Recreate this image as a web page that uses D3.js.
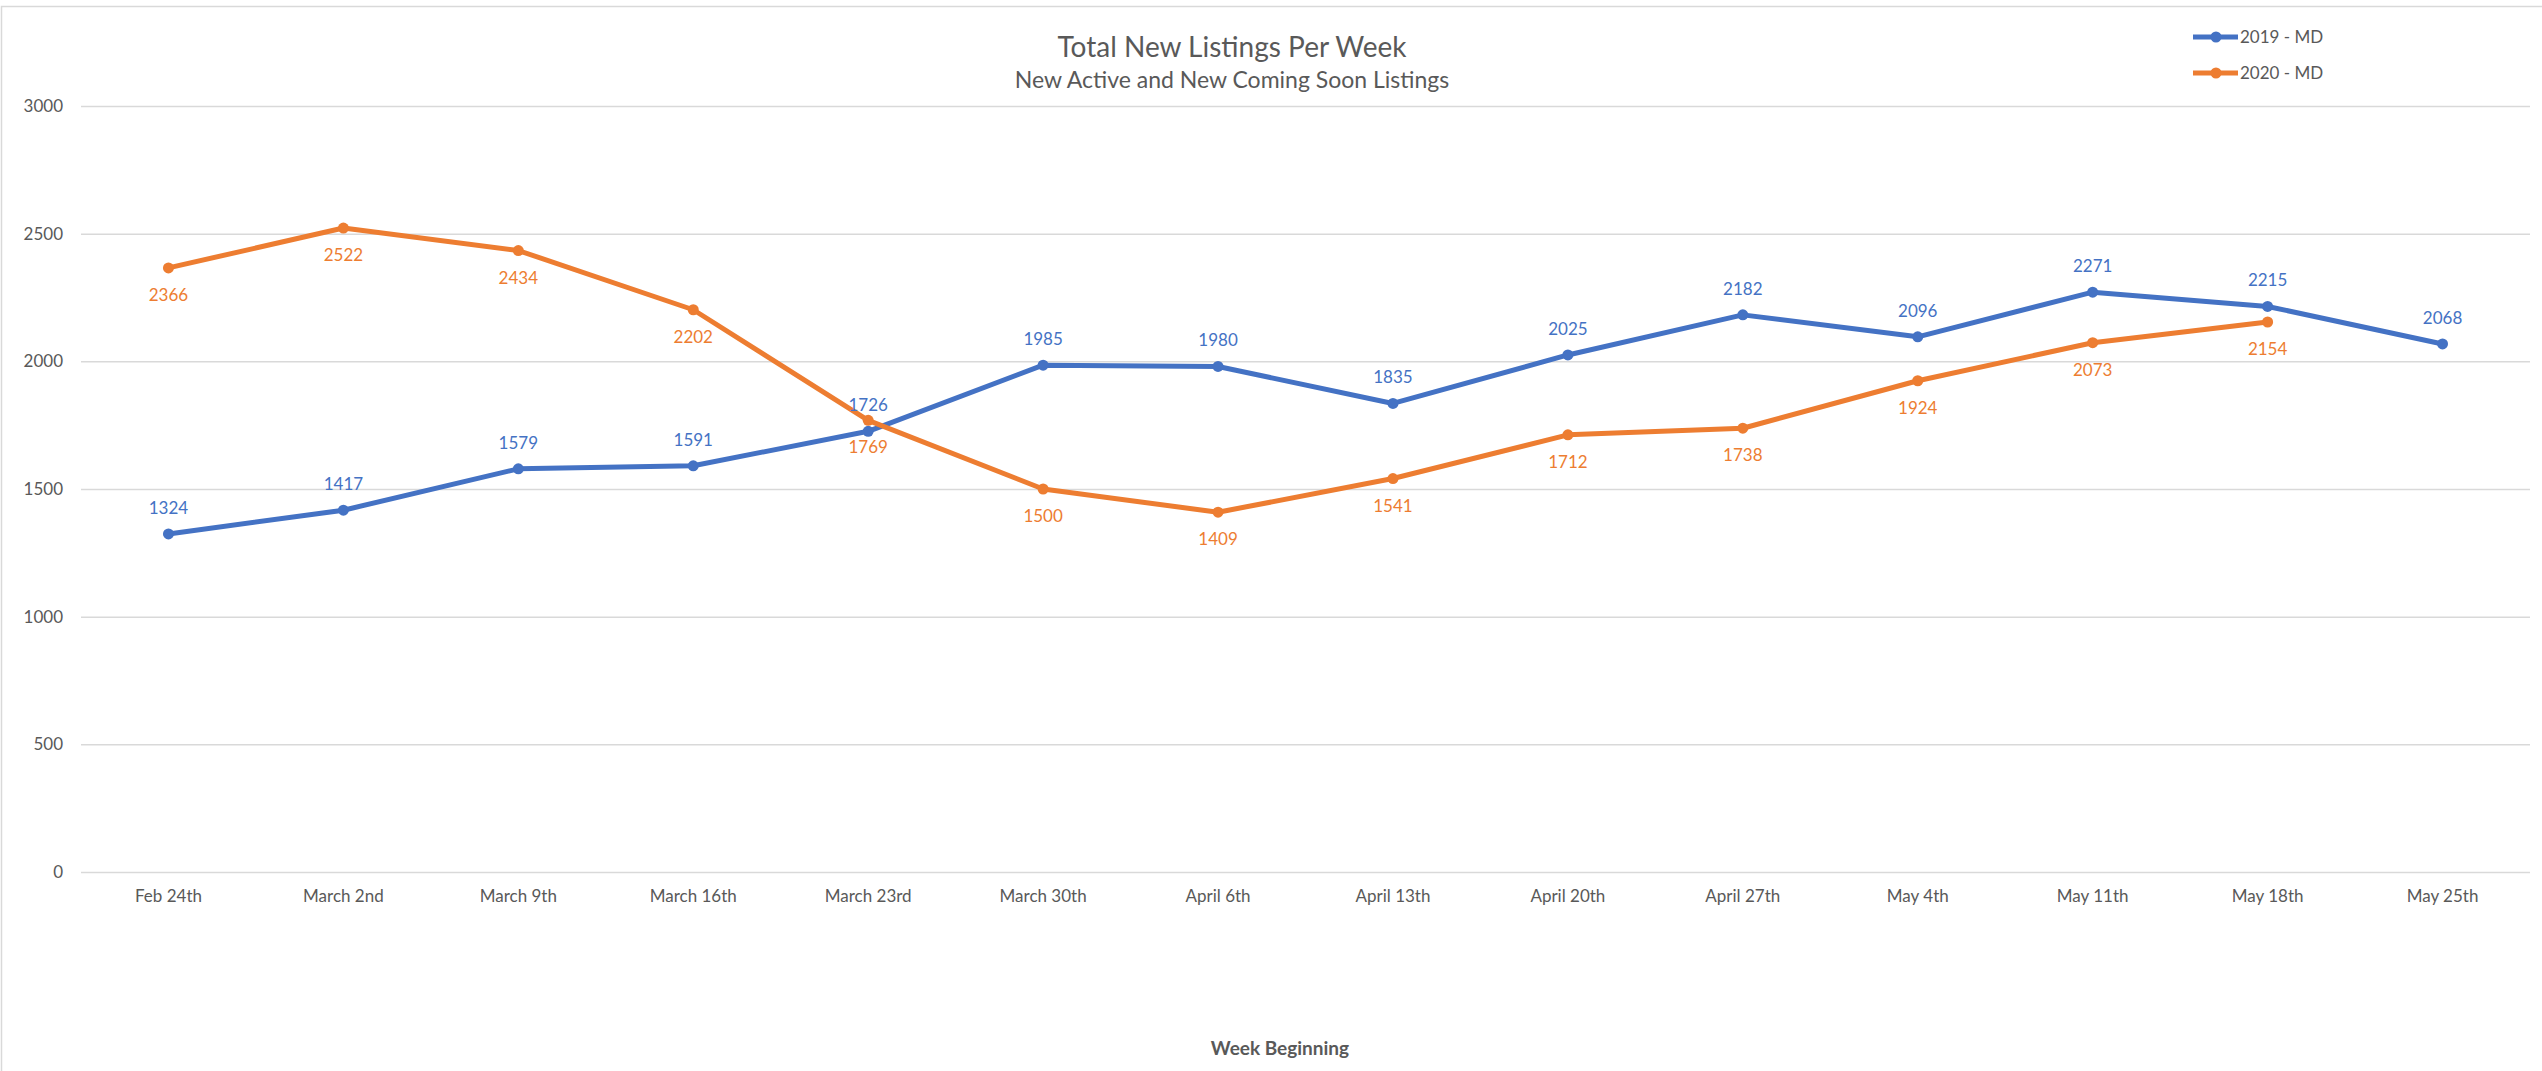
<!DOCTYPE html>
<html>
<head>
<meta charset="utf-8">
<script src="https://cdn.jsdelivr.net/npm/d3@7"></script>
<style>
  html, body { margin: 0; padding: 0; background: #fff; }
  svg { display: block; font-family: Lato, "Open Sans", sans-serif; }
</style>
</head>
<body>
<div id="chart"></div>
<script>
const width = 2542;
const height = 1071;

// chart data
const weeks = ["Feb 24th", "March 2nd", "March 9th", "March 16th", "March 23rd", "March 30th",
  "April 6th", "April 13th", "April 20th", "April 27th", "May 4th", "May 11th", "May 18th", "May 25th"];
const md2019 = [1324, 1417, 1579, 1591, 1726, 1985, 1980, 1835, 2025, 2182, 2096, 2271, 2215, 2068];
const md2020 = [2366, 2522, 2434, 2202, 1769, 1500, 1409, 1541, 1712, 1738, 1924, 2073, 2154];
const yTicks = [0, 500, 1000, 1500, 2000, 2500, 3000];

const series = [
  { name: "2019 - MD", values: md2019, color: "#4472C4", labelPos: "above" },
  { name: "2020 - MD", values: md2020, color: "#ED7D31", labelPos: "below" },
];

const textColor = "#595959";
const gridColor = "#D9D9D9";

const plot = { left: 81, right: 2530, top: 106, bottom: 872 };

const svg = d3.select("#chart").append("svg")
  .attr("width", width)
  .attr("height", height);

// chart border (only top and left edges show)
svg.append("path")
  .attr("d", `M1.5,${height} V6.5 H${width}`)
  .attr("fill", "none")
  .attr("stroke", gridColor)
  .attr("stroke-width", 1.5);

const xScale = d3.scaleBand()
  .domain(weeks)
  .range([plot.left, plot.right]);

const yScale = d3.scaleLinear()
  .domain([0, 3000])
  .range([plot.bottom, plot.top]);

// gridlines
svg.append("g")
  .attr("class", "gridlines")
  .attr("transform", `translate(${plot.left}, 0)`)
  .call(d3.axisLeft(yScale).tickValues(yTicks).tickFormat("").tickSize(-(plot.right - plot.left)))
  .call(g => g.select(".domain").remove())
  .call(g => g.selectAll("line").attr("stroke", gridColor).attr("stroke-width", 1.5));

// y axis labels
svg.append("g")
  .attr("class", "y-axis")
  .attr("transform", `translate(63, 0)`)
  .call(d3.axisLeft(yScale).tickValues(yTicks).tickFormat(d3.format("d")).tickSize(0).tickPadding(0))
  .call(g => g.select(".domain").remove())
  .call(g => g.selectAll("text")
    .attr("fill", textColor)
    .style("font-size", "17px")
    .style("font-family", "Lato, sans-serif"));

// x axis labels
svg.append("g")
  .attr("class", "x-axis")
  .attr("transform", `translate(0, ${plot.bottom})`)
  .call(d3.axisBottom(xScale).tickSize(0).tickPadding(18))
  .call(g => g.select(".domain").remove())
  .call(g => g.selectAll("text")
    .attr("fill", textColor)
    .style("font-size", "17px")
    .style("font-family", "Lato, sans-serif"));

const cx = (i) => xScale(weeks[i]) + xScale.bandwidth() / 2;

const line = d3.line()
  .x((d, i) => cx(i))
  .y(d => yScale(d));

const lines = svg.append("g").attr("class", "series");

series.forEach(s => {
  const g = lines.append("g");
  g.append("path")
    .datum(s.values)
    .attr("fill", "none")
    .attr("stroke", s.color)
    .attr("stroke-width", 5)
    .attr("stroke-linejoin", "round")
    .attr("d", line);

  g.selectAll("circle")
    .data(s.values)
    .join("circle")
    .attr("cx", (d, i) => cx(i))
    .attr("cy", d => yScale(d))
    .attr("r", 5.5)
    .attr("fill", s.color);
});

// data labels on top of the lines
series.forEach(s => {
  svg.append("g")
    .selectAll("text")
    .data(s.values)
    .join("text")
    .attr("x", (d, i) => cx(i))
    .attr("y", d => s.labelPos === "above" ? yScale(d) - 20 : yScale(d) + 33)
    .attr("text-anchor", "middle")
    .attr("fill", s.color)
    .style("font-size", "17px")
    .text(d => d);
});

// titles
svg.append("text")
  .attr("x", 1232)
  .attr("y", 57)
  .attr("text-anchor", "middle")
  .attr("fill", textColor)
  .style("font-size", "28px")
  .text("Total New Listings Per Week");

svg.append("text")
  .attr("x", 1232)
  .attr("y", 88)
  .attr("text-anchor", "middle")
  .attr("fill", textColor)
  .style("font-size", "23px")
  .text("New Active and New Coming Soon Listings");

svg.append("text")
  .attr("x", 1280)
  .attr("y", 1055)
  .attr("text-anchor", "middle")
  .attr("fill", textColor)
  .style("font-size", "19px")
  .style("font-weight", "bold")
  .text("Week Beginning");

// legend
const legend = svg.append("g").attr("class", "legend");
series.forEach((s, i) => {
  const y = 37 + i * 36;
  legend.append("line")
    .attr("x1", 2193).attr("x2", 2238)
    .attr("y1", y).attr("y2", y)
    .attr("stroke", s.color)
    .attr("stroke-width", 5);
  legend.append("circle")
    .attr("cx", 2216).attr("cy", y)
    .attr("r", 5.5)
    .attr("fill", s.color);
  legend.append("text")
    .attr("x", 2240)
    .attr("y", y)
    .attr("dy", "0.35em")
    .attr("fill", textColor)
    .style("font-size", "17px")
    .text(s.name);
});
</script>
</body>
</html>
